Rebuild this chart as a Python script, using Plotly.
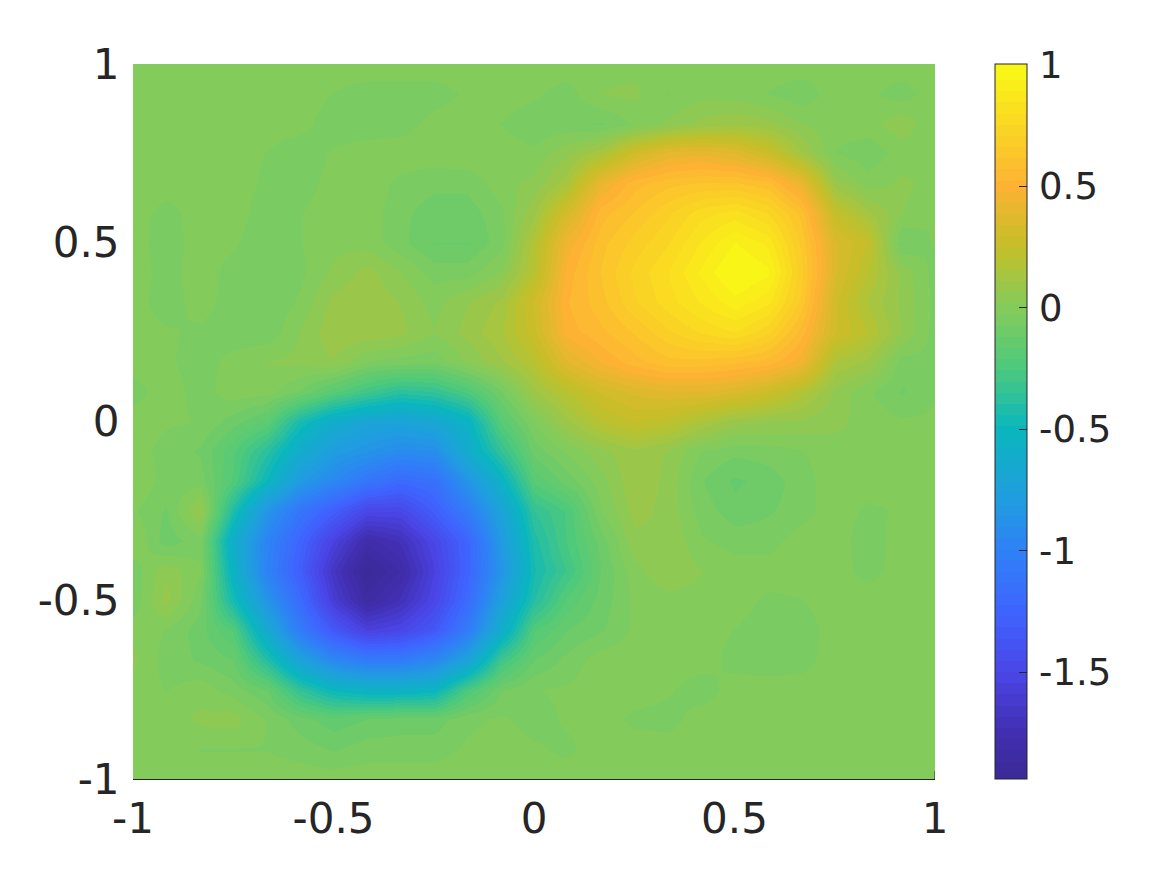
import numpy as np
import plotly.graph_objects as go

x_values = [-1, -0.917, -0.833, -0.75, -0.667, -0.583, -0.5, -0.417, -0.333, -0.25, -0.167, -0.083, 0,
            0.083, 0.167, 0.25, 0.333, 0.417, 0.5, 0.583, 0.667, 0.75, 0.833, 0.917, 1]
y_values = [1, 0.917, 0.833, 0.75, 0.667, 0.583, 0.5, 0.417, 0.333, 0.25, 0.167, 0.083, 0,
            -0.083, -0.167, -0.25, -0.333, -0.417, -0.5, -0.583, -0.667, -0.75, -0.833, -0.917, -1]
z_values = [
 [0,0,0,0,0,0,0,0,0,0,0,0,0, 0,0,0,0,0,0,0,0,0,0,0,0],
 [0,0,0,0,0,0,-.03,-.05,-.05,-.05,-.02,0,-.02, -.05,.02,.03,-.03,0,0,-.03,-.06,0,-.02,-.05,0],
 [0,0,0,0,0,-.01,-.06,-.06,-.05,-.01,0,-.03,-.06, -.06,-.08,-.02,.03,.08,.1,.08,.02,-.01,0,.05,-.02],
 [0,0,0,0,-.03,-.06,-.02,0,0,0,.01,0,-.02, .05,.14,.3,.4,.42,.38,.28,.12,-.03,-.06,-.01,-.02],
 [0,0,0,0,-.04,-.05,-.01,0,-.04,-.06,-.06,0,.03, .14,.42,.55,.6,.62,.62,.58,.42,.08,-.01,.03,0],
 [0,-.05,0,0,-.06,-.03,0,0,-.06,-.1,-.1,-.04,.1, .32,.55,.62,.7,.78,.82,.75,.6,.25,.12,.02,-.03],
 [0,-.06,0,-.02,-.07,-.03,0,0,-.06,-.12,-.12,-.05,.18, .45,.6,.68,.75,.85,.94,.88,.65,.35,.25,-.08,-.02],
 [0,-.05,0,-.05,-.07,-.04,.03,.08,.02,-.05,-.05,.02,.2, .5,.62,.72,.8,.9,1.0,.95,.68,.35,.2,.05,-.05],
 [0,-.06,0,-.06,-.07,-.02,.08,.1,.06,0,.06,.12,.3, .52,.6,.7,.78,.85,.92,.86,.65,.3,.15,.05,-.04],
 [0,-.02,-.04,-.06,-.06,.02,.1,.1,.08,.02,.08,.15,.28, .5,.56,.62,.7,.76,.8,.72,.55,.3,.2,.06,-.05],
 [0,-.02,-.05,-.01,.02,.03,.06,-.03,-.05,-.06,.02,.1,.2, .38,.48,.55,.6,.6,.58,.55,.45,.15,.1,-.05,-.04],
 [-.05,0,-.05,0,-.01,-.08,-.2,-.3,-.38,-.35,-.25,-.08,.1, .2,.3,.35,.38,.38,.35,.28,.18,.05,-.02,-.08,-.03],
 [0,-.02,-.03,-.1,-.18,-.45,-.62,-.7,-.72,-.68,-.55,-.2,-.03, .1,.2,.25,.22,.15,.08,.06,.05,.03,0,-.02,-.02],
 [0,-.05,-.08,-.2,-.38,-.62,-.78,-.85,-.92,-.9,-.62,-.35,-.1, -.02,.05,.1,.06,-.03,-.06,-.05,-.03,0,0,0,0],
 [.02,-.05,-.05,-.22,-.5,-.8,-.95,-1.1,-1.2,-1.15,-.85,-.55,-.2, -.1,0,.1,.05,-.07,-.13,-.1,-.05,0,0,0,0],
 [-.02,-.08,.08,-.42,-.85,-1.1,-1.3,-1.5,-1.5,-1.3,-1.05,-.72,-.35, -.25,-.03,.08,.05,-.05,-.1,-.08,-.05,0,-.04,-.02,0],
 [.02,-.1,-.05,-.6,-.98,-1.25,-1.55,-1.8,-1.72,-1.5,-1.25,-.8,-.42, -.25,-.1,.05,.06,-.02,-.05,-.05,0,0,-.06,0,0],
 [-.06,.05,-.02,-.55,-1.0,-1.3,-1.68,-1.94,-1.82,-1.55,-1.25,-.85,-.45, -.3,-.12,.0,.06,.02,0,0,0,0,-.05,0,0],
 [-.06,.08,-.06,-.45,-.85,-1.2,-1.6,-1.85,-1.72,-1.5,-1.2,-.75,-.4, -.2,-.1,-.02,0,0,0,-.04,-.03,0,0,0,0],
 [0,-.03,-.1,-.22,-.65,-1.05,-1.35,-1.55,-1.5,-1.35,-1.05,-.6,-.22, -.12,-.08,-.02,0,0,-.03,-.06,-.06,0,0,0,0],
 [.03,-.05,-.08,-.12,-.4,-.72,-.95,-1.05,-1.05,-.95,-.72,-.3,-.12, -.06,0,0,0,0,-.05,-.06,-.05,0,0,0,0],
 [0,-.03,0,-.05,-.12,-.35,-.5,-.55,-.55,-.52,-.25,-.08,-.03, -.02,0,0,-.02,-.06,0,0,0,0,0,0,0],
 [0,-.01,.03,.04,-.03,-.1,-.15,-.12,-.1,-.1,-.04,-.02,-.05, -.02,0,-.04,-.05,0,0,0,0,0,0,0,0],
 [0,-.01,-.03,-.03,-.03,-.05,-.08,-.05,-.05,-.05,-.02,0,-.02, -.04,0,0,0,0,0,0,0,0,0,0,0],
 [0,0,0,0,0,0,0,0,0,0,0,0,0, 0,0,0,0,0,0,0,0,0,0,0,0],
]
cbar_ticks = [1, 0.5, 0, -0.5, -1, -1.5]
cbar_labels = ["\u200a1", "\u200a0.5", "\u200a0", "\u200a-0.5", "\u200a-1", "\u200a-1.5"]
axis_ticks = [-1, -0.5, 0, 0.5, 1]
axis_labels = ["-1", "-0.5", "0", "0.5", "1"]

Z_MIN, Z_MAX = -1.94, 1.004
anchor_z = [-1.94, -1.75, -1.5, -1.25, -1.0, -0.75, -0.5, -0.25, 0.0, 0.25, 0.5, 0.75, 1.004]
anchor_rgb = [(59, 42, 152), (65, 46, 176), (74, 70, 232), (62, 100, 255), (46, 130, 245), (30, 160, 220),
              (10, 182, 190), (76, 201, 124), (132, 204, 91), (196, 191, 40), (253, 178, 52), (250, 215, 35), (249, 251, 21)]
LEVELS = 64
BAND_SHIFT = -0.02 / (Z_MAX - Z_MIN)
az = np.array(anchor_z)
edges = [0.0] + [k / LEVELS + BAND_SHIFT for k in range(1, LEVELS)] + [1.0]
scale = []
for i in range(LEVELS):
    mid = Z_MIN + (edges[i] + edges[i + 1]) / 2 * (Z_MAX - Z_MIN)
    rgb = [int(round(np.interp(mid, az, [c[k] for c in anchor_rgb]))) for k in range(3)]
    col = f"rgb({rgb[0]},{rgb[1]},{rgb[2]})"
    scale.append([edges[i], col])
    scale.append([edges[i + 1], col])

# The page body adds an 8 px offset, so the figure is sized and placed to allow for it.
PAGE_OFFSET = 8
W, H = 1167 - 2 * PAGE_OFFSET, 875 - 2 * PAGE_OFFSET
L, R, T, B = 133 - PAGE_OFFSET, 935 - PAGE_OFFSET, 64 - PAGE_OFFSET, 779 - PAGE_OFFSET
AX_FONT = dict(family="DejaVu Sans", size=42, color="#262626")
CB_FONT = dict(family="DejaVu Sans", size=37, color="#262626")

fig = go.Figure(go.Heatmap(
    x=x_values, y=y_values, z=z_values, zmin=Z_MIN, zmax=Z_MAX, colorscale=scale, zsmooth="best",
    colorbar=dict(
        x=(995 - 133) / (935 - 133), xanchor="left", y=0, yanchor="bottom", len=1, lenmode="fraction",
        thickness=32, thicknessmode="pixels", xpad=0, ypad=0,
        outlinecolor="#262626", outlinewidth=1, ticks="inside", ticklen=8, tickcolor="#262626", tickwidth=1,
        tickvals=cbar_ticks, ticktext=cbar_labels, tickfont=CB_FONT),
))
fig.add_shape(type="line", xref="x", yref="y", x0=1, x1=1, y0=-1, y1=-0.978,
              line=dict(color="#262626", width=1), layer="above")
fig.update_layout(
    width=W, height=H, margin=dict(l=L, r=W - R, t=T, b=H - B, autoexpand=False),
    paper_bgcolor="white", plot_bgcolor="white", showlegend=False,
    xaxis=dict(range=[-1, 1], tickvals=axis_ticks, ticktext=axis_labels, tickfont=AX_FONT,
               ticks="outside", ticklen=3, tickcolor="rgba(0,0,0,0)", showgrid=False, zeroline=False,
               showline=True, linecolor="#262626", linewidth=1, automargin=False),
    yaxis=dict(range=[-1, 1], tickvals=axis_ticks, ticktext=axis_labels, tickfont=AX_FONT,
               ticks="outside", ticklen=4, tickcolor="rgba(0,0,0,0)", showgrid=False, zeroline=False,
               showline=False, automargin=False),
)
fig.write_html("out.html")
